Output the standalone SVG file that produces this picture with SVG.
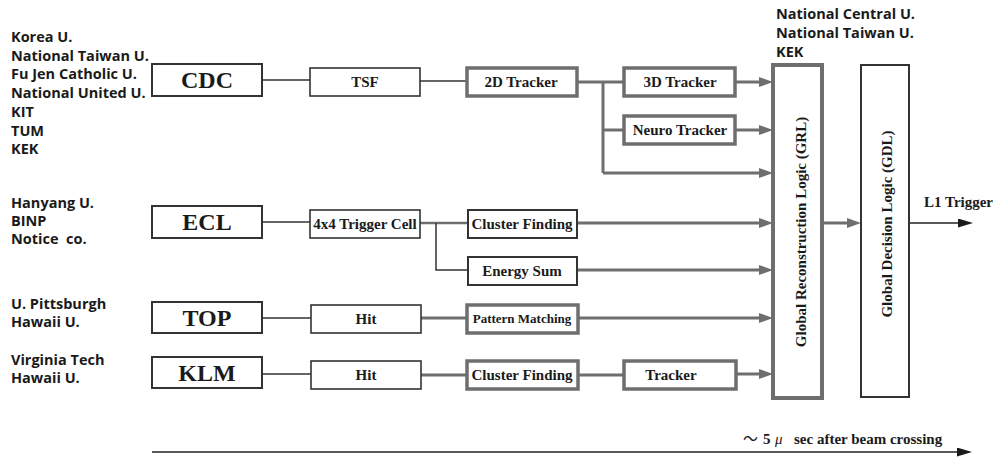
<svg xmlns="http://www.w3.org/2000/svg" width="997" height="457" viewBox="0 0 997 457">
<style>
.org{font-family:"Open Sans","Noto Sans",sans-serif;font-weight:700;font-size:14.5px;fill:#1a1a1a}
.det{font-family:"Liberation Serif","Times New Roman",serif;font-weight:700;font-size:24px;fill:#1a1a1a;text-anchor:middle}
.lbl{font-family:"Liberation Serif","Times New Roman",serif;font-weight:700;font-size:15px;fill:#1a1a1a;text-anchor:middle}
.small{font-size:13px}
.boxD{fill:#fff;stroke:#333;stroke-width:2}
.boxT{fill:#fff;stroke:#333;stroke-width:1.6}
.boxG{fill:#fff;stroke:#6e6e6e;stroke-width:3.5}
.thin{fill:none;stroke:#333;stroke-width:1.5}
.gray{fill:none;stroke:#6e6e6e;stroke-width:3}
.garr{fill:none;stroke:#6e6e6e;stroke-width:3;marker-end:url(#ga)}
.darr{fill:none;stroke:#222;stroke-width:1.5;marker-end:url(#da)}
</style>
<defs>
<marker id="ga" markerUnits="userSpaceOnUse" viewBox="0 -5 14 10" refX="0" refY="0" markerWidth="14" markerHeight="10" orient="auto">
<path d="M0,-5 L14,0 L0,5 Z" fill="#6e6e6e"/>
</marker>
<marker id="da" markerUnits="userSpaceOnUse" viewBox="0 -4.5 15 9" refX="0" refY="0" markerWidth="15" markerHeight="9" orient="auto">
<path d="M0,-4.5 L15,0 L0,4.5 Z" fill="#1a1a1a"/>
</marker>
</defs>
<rect width="997" height="457" fill="#fff"/>

<g id="institutions">
<text class="org" x="11" y="42">Korea U.</text>
<text class="org" x="11" y="60.7">National Taiwan U.</text>
<text class="org" x="11" y="79.4">Fu Jen Catholic U.</text>
<text class="org" x="11" y="98.1">National United U.</text>
<text class="org" x="11" y="116.8">KIT</text>
<text class="org" x="11" y="135.5">TUM</text>
<text class="org" x="11" y="154.2">KEK</text>
<text class="org" x="11" y="208">Hanyang U.</text>
<text class="org" x="11" y="226">BINP</text>
<text class="org" x="11" y="244" xml:space="preserve">Notice  co.</text>
<text class="org" x="11" y="309">U. Pittsburgh</text>
<text class="org" x="11" y="327">Hawaii U.</text>
<text class="org" x="11" y="365">Virginia Tech</text>
<text class="org" x="11" y="383">Hawaii U.</text>
<text class="org" x="776" y="19">National Central U.</text>
<text class="org" x="776" y="38">National Taiwan U.</text>
<text class="org" x="776" y="57">KEK</text>
</g>

<g id="connectors">
<path class="thin" d="M262,80 H310"/>
<path class="thin" d="M420,81 H467"/>
<path class="gray" d="M577,82 H624"/>
<path class="gray" d="M603,82 V173"/>
<path class="gray" d="M603,130 H624"/>
<path class="garr" d="M735,82 H759"/>
<path class="garr" d="M735,130 H759"/>
<path class="garr" d="M603,173 H759"/>
<path class="thin" d="M262,222 H310"/>
<path class="gray" d="M420,223 H468" style="stroke-width:2.4"/>
<path class="thin" d="M436,223 V270 H468"/>
<path class="garr" d="M577,223 H759"/>
<path class="garr" d="M577,270 H759"/>
<path class="thin" d="M262,318 H311"/>
<path class="gray" d="M421,318 H467"/>
<path class="garr" d="M578,318 H759"/>
<path class="thin" d="M262,374 H311"/>
<path class="gray" d="M421,375 H467"/>
<path class="gray" d="M578,375 H624"/>
<path class="garr" d="M736,374 H759"/>
<path class="garr" d="M822,223 H847"/>
<path class="darr" d="M909,223 H958"/>
<path class="darr" d="M152,452 H957"/>
</g>

<g id="CDC"><rect class="boxD" x="152" y="64" width="110" height="32"/><text class="det" x="207" y="88">CDC</text></g>
<g id="TSF"><rect class="boxT" x="310" y="68" width="110" height="28"/><text class="lbl" x="365" y="87">TSF</text></g>
<g id="Tracker2D"><rect class="boxG" x="467" y="68" width="110" height="28"/><text class="lbl" x="521" y="87">2D Tracker</text></g>
<g id="Tracker3D"><rect class="boxG" x="624" y="68" width="111" height="28"/><text class="lbl" x="680" y="87">3D Tracker</text></g>
<g id="NeuroTracker"><rect class="boxG" x="624" y="116" width="111" height="28"/><text class="lbl" x="680" y="135">Neuro Tracker</text></g>

<g id="ECL"><rect class="boxD" x="152" y="206" width="110" height="32"/><text class="det" x="207" y="230">ECL</text></g>
<g id="TriggerCell"><rect class="boxT" x="310" y="210" width="110" height="28"/><text class="lbl" x="365" y="229">4x4 Trigger Cell</text></g>
<g id="ClusterFindingECL"><rect class="boxD" x="468" y="210" width="109" height="28"/><text class="lbl" x="522" y="229">Cluster Finding</text></g>
<g id="EnergySum"><rect class="boxD" x="468" y="257" width="109" height="28"/><text class="lbl" x="522" y="276">Energy Sum</text></g>

<g id="TOP"><rect class="boxD" x="152" y="302" width="110" height="31"/><text class="det" x="207" y="326">TOP</text></g>
<g id="HitTOP"><rect class="boxT" x="311" y="305" width="110" height="28"/><text class="lbl" x="366" y="324">Hit</text></g>
<g id="PatternMatching"><rect class="boxG" x="467" y="305" width="111" height="28"/><text class="lbl small" x="522" y="323">Pattern Matching</text></g>

<g id="KLM"><rect class="boxD" x="152" y="357" width="110" height="31"/><text class="det" x="207" y="381">KLM</text></g>
<g id="HitKLM"><rect class="boxT" x="311" y="361" width="110" height="28"/><text class="lbl" x="366" y="380">Hit</text></g>
<g id="ClusterFindingKLM"><rect class="boxG" x="467" y="361" width="111" height="28"/><text class="lbl" x="522" y="380">Cluster Finding</text></g>
<g id="TrackerKLM"><rect class="boxG" x="624" y="361" width="112" height="28"/><text class="lbl" x="671" y="380">Tracker</text></g>

<g id="GRL"><rect class="boxG" x="773" y="65" width="49" height="333" style="stroke-width:4"/><text class="lbl" transform="translate(806,232) rotate(-90)">Global Reconstruction Logic (GRL)</text></g>
<g id="GDL"><rect class="boxD" x="861" y="65" width="48" height="332"/><text class="lbl" transform="translate(892,224) rotate(-90)">Global Decision Logic (GDL)</text></g>

<g id="L1Trigger"><text class="lbl" x="924" y="207" style="text-anchor:start">L1 Trigger</text></g>

<g id="timeAxis">
<text class="lbl" x="743" y="444" style="text-anchor:start"><tspan style="font-family:'Noto Sans CJK JP',sans-serif;font-weight:400">～</tspan><tspan x="763">5</tspan><tspan x="775" style="font-style:italic;font-weight:400">μ</tspan><tspan x="794">sec after beam crossing</tspan></text>
</g>
</svg>
